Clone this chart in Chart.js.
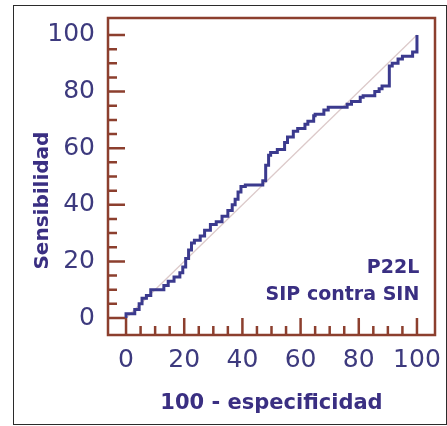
<!DOCTYPE html>
<html>
<head>
<meta charset="utf-8">
<script src="https://cdn.jsdelivr.net/npm/chart.js@4.4.1/dist/chart.umd.min.js"></script>
<style>
    html, body { margin: 0; padding: 0; background: #fff; }
    #wrap { position: relative; width: 447px; height: 426px; }
    #frame {
        position: absolute; left: 13px; top: 5px; width: 434px; height: 420px;
        box-sizing: border-box; border: 1.5px solid #2b2b2b; pointer-events: none;
    }
</style>
</head>
<body>
<div id="wrap">
    <canvas id="roc" width="447" height="426"></canvas>
    <div id="frame"></div>
</div>
<script>
// ROC curve, P22L: SIP contra SIN (step corners)
const fpr = [0, 3, 4.5, 5.5, 7, 8.5, 13, 14.5, 16.5, 18.5, 19.5, 20.5, 21.5, 22.5, 23.5, 25.5, 27, 29, 31, 33, 35,
    36.5, 37.5, 38.5, 39.5, 41, 47, 48, 49, 49.7, 52, 54.5, 55.5, 57.5, 59, 61.5, 62.5, 64.5, 65, 68, 69.5,
    76, 77.5, 80.5, 81.5, 85.5, 87, 88, 90.5, 91.5, 93.5, 95, 98.5, 100, 100];
const sens = [0, 1.5, 3, 5, 7, 8, 10, 11.5, 13, 14.5, 16, 18, 21, 24, 26.5, 27.5, 29, 31, 33, 34, 36,
    38, 40, 42, 44.5, 46.5, 47, 48.5, 54, 57.5, 58.5, 59.5, 62, 64, 66, 67, 68.5, 69.5, 71.5, 72, 73.5,
    74.5, 75.5, 76.5, 78, 78.5, 80, 81, 82, 89, 90, 91.5, 92.5, 94, 100];
const chanceX = [0, 100];
const chanceY = [0, 100];

const majorTicks = [0, 20, 40, 60, 80, 100];
const minorTicks = [5, 10, 15, 25, 30, 35, 45, 50, 55, 65, 70, 75, 85, 90, 95];

const labelColor = '#3d3a7e';
const titleColor = '#3a2f82';
const frameColor = '#8c3f2e';
const family = '"DejaVu Sans", sans-serif';

const toPoints = (xs, ys) => xs.map((v, i) => ({ x: v, y: ys[i] }));

// brown box with inward ticks
const framePlugin = {
    id: 'frameTicks',
    afterDatasetsDraw(chart) {
        const { ctx, chartArea: a, scales: { x, y } } = chart;
        ctx.save();
        ctx.strokeStyle = frameColor;
        ctx.lineWidth = 2.5;
        ctx.strokeRect(a.left, a.top, a.right - a.left, a.bottom - a.top);
        ctx.beginPath();
        majorTicks.forEach(v => {
            const px = x.getPixelForValue(v);
            ctx.moveTo(px, a.bottom);
            ctx.lineTo(px, a.bottom - 17);
            const py = y.getPixelForValue(v);
            ctx.moveTo(a.left, py);
            ctx.lineTo(a.left + 17, py);
        });
        minorTicks.forEach(v => {
            const px = x.getPixelForValue(v);
            ctx.moveTo(px, a.bottom);
            ctx.lineTo(px, a.bottom - 9);
            const py = y.getPixelForValue(v);
            ctx.moveTo(a.left, py);
            ctx.lineTo(a.left + 9, py);
        });
        ctx.stroke();
        ctx.restore();
    }
};

// inner note and the y title (sits a bit below the axis middle)
const textPlugin = {
    id: 'texts',
    afterDatasetsDraw(chart) {
        const { ctx, scales: { x, y } } = chart;
        ctx.save();
        ctx.fillStyle = titleColor;
        ctx.font = 'bold 19px ' + family;
        ctx.textAlign = 'right';
        ctx.textBaseline = 'middle';
        const px = x.getPixelForValue(100.8);
        ctx.fillText('P22L', px, y.getPixelForValue(17.7));
        ctx.fillText('SIP contra SIN', px, y.getPixelForValue(8.1));

        ctx.font = 'bold 20px ' + family;
        ctx.textAlign = 'center';
        ctx.translate(43, y.getPixelForValue(41.5));
        ctx.rotate(-Math.PI / 2);
        ctx.fillText('Sensibilidad', 0, 0);
        ctx.restore();
    }
};

new Chart(document.getElementById('roc'), {
    type: 'line',
    data: {
        datasets: [
            {
                data: toPoints(fpr, sens),
                borderColor: '#3b3a8e',
                borderWidth: 3,
                stepped: 'after',
                pointRadius: 0,
                fill: false,
                order: 1
            },
            {
                data: toPoints(chanceX, chanceY),
                borderColor: '#dccaca',
                borderWidth: 1.3,
                pointRadius: 0,
                fill: false,
                order: 2
            }
        ]
    },
    options: {
        responsive: false,
        animation: false,
        layout: { padding: { left: 0, top: 18, right: 12, bottom: 0 } },
        plugins: { legend: { display: false }, tooltip: { enabled: false } },
        scales: {
            x: {
                type: 'linear',
                min: -6.2,
                max: 106.2,
                afterBuildTicks: s => { s.ticks = majorTicks.map(v => ({ value: v })); },
                afterFit: s => { s.height = 91; s.paddingLeft = 0; s.paddingRight = 0; },
                grid: { display: false, drawTicks: false },
                border: { display: false },
                ticks: { color: labelColor, font: { family, size: 25 }, padding: 10, maxRotation: 0, autoSkip: false },
                title: {
                    display: true, text: '100 - especificidad', color: titleColor,
                    font: { family, size: 21, weight: 'bold' }, padding: { top: 0, bottom: 10 }
                }
            },
            y: {
                type: 'linear',
                min: -6,
                max: 106,
                afterBuildTicks: s => { s.ticks = majorTicks.map(v => ({ value: v })); },
                afterFit: s => { s.width = 108; s.paddingTop = 0; s.paddingBottom = 0; },
                grid: { display: false, drawTicks: false },
                border: { display: false },
                ticks: { color: labelColor, font: { family, size: 25 }, padding: 13, autoSkip: false }
            }
        }
    },
    plugins: [framePlugin, textPlugin]
});
</script>
</body>
</html>
